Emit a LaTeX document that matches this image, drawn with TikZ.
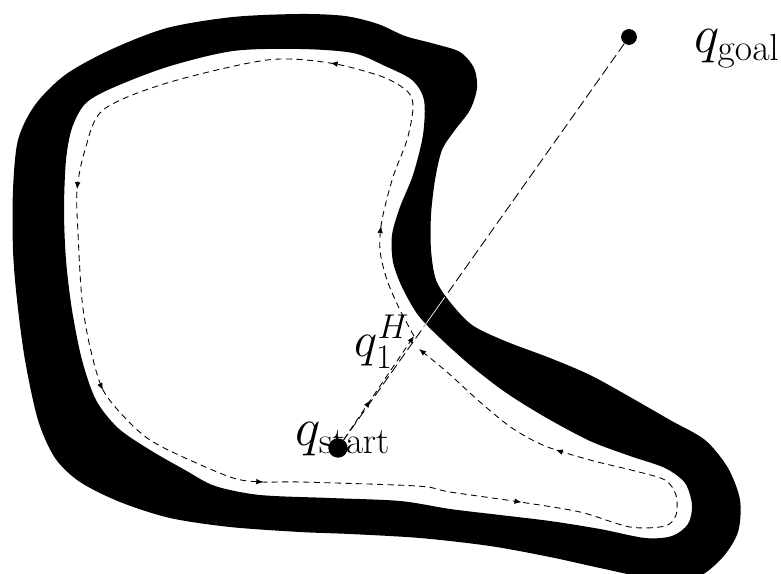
\RequirePackage{fix-cm}
\documentclass[tikz,border=0pt]{standalone}
\usepackage{amsmath}
\usetikzlibrary{calc,arrows.meta,decorations.markings}

\begin{document}
\begin{tikzpicture}[
    x=0.02cm, y=-0.02cm,
    font=\fontsize{30.5}{32}\selectfont,
    obstacle/.style={fill=black, even odd rule},
    motion/.style={line width=0.5pt, dash pattern=on 3.5pt off 2.5pt},
    goalline/.style={line width=0.5pt, dash pattern=on 5.5pt off 2.5pt},
    tip/.style={-{Latex[length=4pt,width=3.2pt]}},
    dot/.style={circle, fill=black, inner sep=0pt, minimum size=#1},
    marked/.style={postaction={decorate}, decoration={markings,
        mark=at position 0.065 with {\arrow{Latex[length=4pt,width=3.2pt]}},
        mark=at position 0.189 with {\arrow{Latex[length=4pt,width=3.2pt]}},
        mark=at position 0.367 with {\arrow{Latex[length=4pt,width=3.2pt]}},
        mark=at position 0.48 with {\arrow{Latex[length=4pt,width=3.2pt]}},
        mark=at position 0.586 with {\arrow{Latex[length=4pt,width=3.2pt]}},
        mark=at position 0.73 with {\arrow{Latex[length=4pt,width=3.2pt]}},
        mark=at position 0.905 with {\arrow{Latex[length=4pt,width=3.2pt]}}}}
]
\useasboundingbox (0,0) rectangle (781,574);

% obstacle (ring)
\fill[obstacle]
  plot[smooth cycle] coordinates {(13,250) (13,190) (18,140) (35,105) (65,75) (110,50) (167,28) (233,17) (300,14) (345,16) (378,24) (405,36) (435,44) (460,52) (474,68) (477,88) (470,110) (455,130) (442,150) (435,180) (431,215) (431,250) (436,280) (450,302) (472,325) (505,341) (550,358) (590,375) (630,397) (670,420) (705,440) (728,468) (740,500) (738,532) (722,558) (695,578) (650,578) (600,568) (550,557) (490,546) (420,538) (350,534) (300,532) (230,527) (170,518) (120,502) (80,482) (55,458) (38,420) (25,360) (17,300)}
  plot[smooth cycle] coordinates {(64,210) (66,160) (72,128) (85,104) (110,89) (167,67) (233,51) (300,49) (353,53) (385,66) (412,80) (424,100) (423,135) (413,175) (400,207) (392,235) (393,262) (402,287) (418,315) (440,338) (470,365) (505,392) (545,417) (590,441) (630,456) (665,468) (685,483) (692,505) (688,524) (672,536) (645,538) (600,529) (550,521) (500,515) (450,509) (400,501) (330,498) (260,495) (215,486) (185,470) (150,450) (118,428) (96,400) (82,360) (72,310) (66,260)};

\node[dot=9pt] (goal) at (629,37) {};
\node[dot=11pt] (start) at (338,448) {};
\coordinate (hit) at (414,336);
\coordinate (back) at (419,349);
\coordinate (crossin) at ($(start)!0.292!(goal)$);
\coordinate (crossout) at ($(start)!0.367!(goal)$);

\node (goallbl) at (737,49) {$q_{\mathrm{goal}}$};
\node (startlbl) at (343,439) {$q_{\mathrm{start}}$};
\node[font=\fontsize{28}{30}\selectfont] (hitlbl) at (382,342) {$q_1^H$};

% straight line towards the goal
\draw[goalline] (goal) -- (start);
\draw[white, line width=0.4pt] (crossin) -- (crossout);

% motion: start -> hit point, then around the obstacle
\draw[motion, tip, postaction={decorate}, decoration={markings,
    mark=at position 0.38 with {\arrow{Latex[length=4pt,width=3.2pt]}}}]
  (start) -- (hit);
\draw[motion, tip, marked]
  plot[smooth] coordinates {(hit) (400,310) (387,280) (380,250) (382,220) (393,177) (407,140) (413,108) (408,92) (383,77) (330,63) (267,60) (167,83) (103,110) (85,150) (77,190) (78,233) (82,300) (90,347) (103,390) (127,420) (150,440) (183,457) (233,478) (263,482) (300,482) (417,486) (450,492) (520,502) (580,512) (630,527) (665,526) (676,515) (676,495) (665,480) (635,471) (590,460) (545,446) (512,428) (480,402) (447,372) (back)};
\end{tikzpicture}
\end{document}
